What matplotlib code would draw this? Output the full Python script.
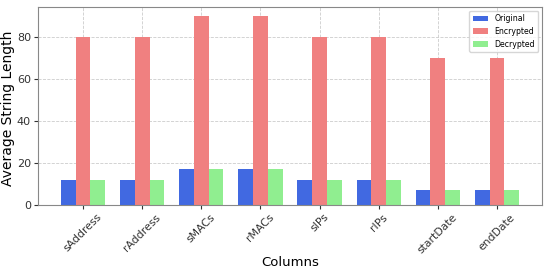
import numpy as np
import matplotlib
matplotlib.use("Agg")
import matplotlib.pyplot as plt

categories = ["sAddress", "rAddress", "sMACs", "rMACs", "sIPs", "rIPs", "startDate", "endDate"]
original = [12, 12, 17, 17, 12, 12, 7, 7]
encrypted = [80, 80, 90, 90, 80, 80, 70, 70]
decrypted = [12, 12, 17, 17, 12, 12, 7, 7]

fig = plt.figure(figsize=(5.5, 2.73), dpi=100)
ax = fig.add_axes([38/550, 1-205/273, (542-38)/550, (205-7)/273])

x = np.arange(len(categories))
w = 0.25
ax.bar(x - w, original, w, color="royalblue", label="Original")
ax.bar(x, encrypted, w, color="lightcoral", label="Encrypted")
ax.bar(x + w, decrypted, w, color="lightgreen", label="Decrypted")

ax.set_xticks(x)
ax.set_xticklabels(categories, rotation=45, fontsize=7.8)
ax.tick_params(axis="y", labelsize=8, pad=2)
ax.tick_params(axis="x", pad=2)
ax.tick_params(colors="#333333", length=3)
ax.set_xlabel("Columns", fontsize=9.5)
ax.set_ylabel("Average String Length", fontsize=10)
ax.xaxis.label.set_va("center")
ax.xaxis.set_label_coords(0.5, -(262 - 205) / 198)
ax.yaxis.set_label_coords(-(38 - 15) / 504, 0.49)
ax.grid(True, linestyle="--", color="#cccccc", linewidth=0.6)
ax.set_axisbelow(True)
for s in ax.spines.values():
    s.set_color("#888888")
ax.legend(fontsize=5.6, loc="upper right")
fig.savefig("out.png", dpi=100)
